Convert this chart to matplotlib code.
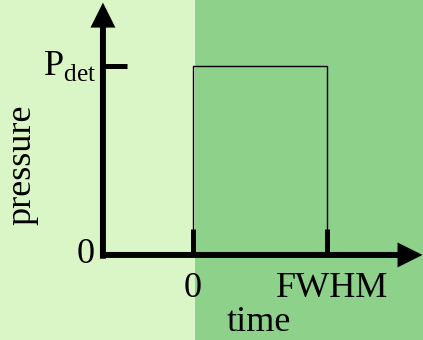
import matplotlib
matplotlib.use("Agg")
import matplotlib.pyplot as plt

# Square pressure pulse: zero, rise at t=0, hold at P_det, fall at FWHM
pulse_time = [0.0, 0.0, 1.0, 1.0]
pulse_pressure = [0.0, 1.0, 1.0, 0.0]
time_ticks = [0.0, 1.0]
time_tick_labels = ["0", "FWHM"]
p_det = 1.0

light_green = "#daf5c6"
dark_green = "#8dd18a"

plt.rcParams["font.family"] = ["Liberation Serif", "DejaVu Serif"]
plt.rcParams["mathtext.fontset"] = "custom"
plt.rcParams["mathtext.rm"] = "Liberation Serif"

fig = plt.figure(figsize=(4.23, 3.40), dpi=100)
ax = fig.add_axes([0, 0, 1, 1])
ax.set_xlim(-1.440, 1.716)
ax.set_ylim(-0.450, 1.349)
ax.axis("off")

# two background zones, switching at the start of the pulse
ax.axvspan(-1.440, pulse_time[0] + 0.015, color=light_green, lw=0, zorder=0)
ax.axvspan(pulse_time[0] + 0.015, 1.716, color=dark_green, lw=0, zorder=0)

x_org = -0.672  # where the hand-drawn axes cross
arrow = dict(arrowstyle="-|>,head_length=11,head_width=5.5", lw=4.3,
             color="black", shrinkA=0, shrinkB=0, mutation_scale=1,
             joinstyle="miter", capstyle="butt")
ax.annotate("", xy=(x_org, 1.335), xytext=(x_org, -0.02), arrowprops=arrow)
ax.annotate("", xy=(1.712, 0.0), xytext=(x_org - 0.02, 0.0), arrowprops=arrow)

# the pulse itself
ax.plot(pulse_time, pulse_pressure, color="black", lw=1.0, zorder=3)

# thick markers at the time ticks
for t in time_ticks:
    ax.plot([t, t], [0, 0.138], color="black", lw=3.6, solid_capstyle="butt", zorder=4)
ax.plot([x_org, x_org + 0.18], [p_det, p_det], color="black", lw=3.6,
        solid_capstyle="butt", zorder=4)

fs = 26
ax.text(x_org - 0.06, 0.0, "0", fontsize=fs, ha="right", va="center")
ax.text(x_org - 0.05, p_det, r"P$_{\mathrm{det}}$", fontsize=fs, ha="right", va="center")
ax.text(time_ticks[0], -0.09, time_tick_labels[0], fontsize=fs, ha="center", va="top")
ax.text(time_ticks[1] + 0.04, -0.09, time_tick_labels[1], fontsize=fs, ha="center", va="top")
ax.text(0.49, -0.36, "time", fontsize=fs, ha="center", va="center")
ax.text(-1.276, 0.476, "pressure", fontsize=fs, ha="center", va="center", rotation=90)

fig.savefig("out.png", dpi=100)
